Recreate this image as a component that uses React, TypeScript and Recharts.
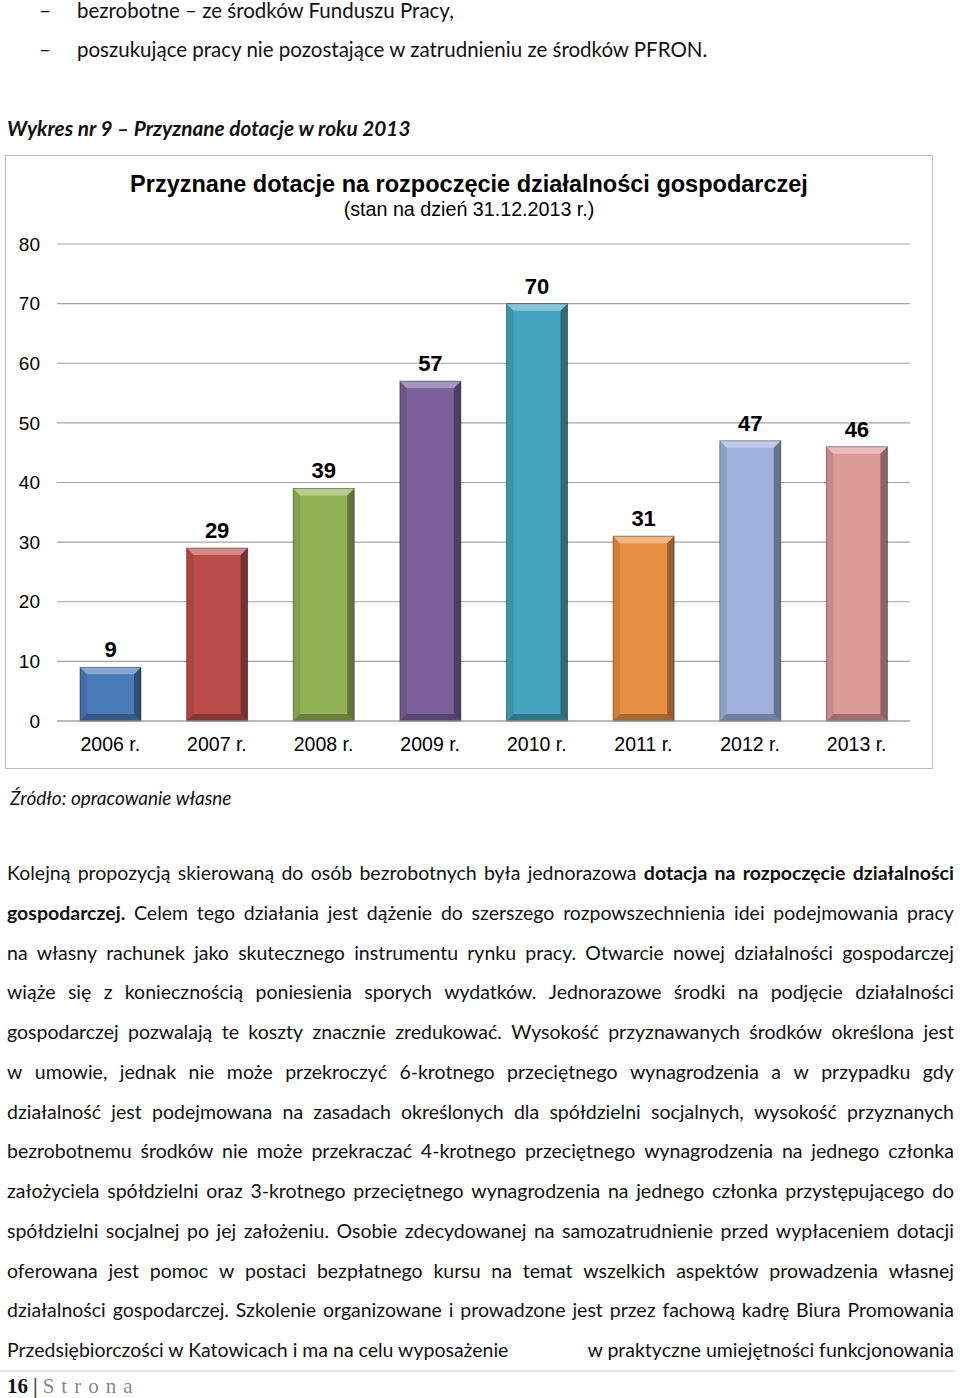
import React from "react";
import { Bar, BarChart, CartesianGrid, Cell, LabelList, XAxis, YAxis } from "recharts";

// chart data
const years = ["2006 r.", "2007 r.", "2008 r.", "2009 r.", "2010 r.", "2011 r.", "2012 r.", "2013 r."];
const grants = [9, 29, 39, 57, 70, 31, 47, 46];
const barColors = ["#4a7ab8", "#bb4c4a", "#93b256", "#7c5f9b", "#45a3bd", "#e88f45", "#9db1dc", "#dc9a99"];
const yTicks = [0, 10, 20, 30, 40, 50, 60, 70, 80];

const data = years.map((year, i) => ({ year, value: grants[i] }));

const bodyLines: { text: string; bold?: [number, number] }[] = [
  { text: "Kolejną propozycją skierowaną do osób bezrobotnych była jednorazowa dotacja na rozpoczęcie działalności", bold: [8, 12] },
  { text: "gospodarczej. Celem tego działania jest dążenie do szerszego rozpowszechnienia idei podejmowania pracy", bold: [0, 1] },
  { text: "na własny rachunek jako skutecznego instrumentu rynku pracy. Otwarcie nowej działalności gospodarczej" },
  { text: "wiąże się z koniecznością poniesienia sporych wydatków. Jednorazowe środki na podjęcie działalności" },
  { text: "gospodarczej pozwalają te koszty znacznie zredukować. Wysokość przyznawanych środków określona jest" },
  { text: "w umowie, jednak nie może przekroczyć 6-krotnego przeciętnego wynagrodzenia a w przypadku gdy" },
  { text: "działalność jest podejmowana na zasadach określonych dla spółdzielni socjalnych, wysokość przyznanych" },
  { text: "bezrobotnemu środków nie może przekraczać 4-krotnego przeciętnego wynagrodzenia na jednego członka" },
  { text: "założyciela spółdzielni oraz 3-krotnego przeciętnego wynagrodzenia na jednego członka przystępującego do" },
  { text: "spółdzielni socjalnej po jej założeniu. Osobie zdecydowanej na samozatrudnienie przed wypłaceniem dotacji" },
  { text: "oferowana jest pomoc w postaci bezpłatnego kursu na temat wszelkich aspektów prowadzenia własnej" },
  { text: "działalności gospodarczej. Szkolenie organizowane i prowadzone jest przez fachową kadrę Biura Promowania" },
];

const textFont = "Lato, 'Open Sans', sans-serif";
const chartFont = "'Liberation Sans', Arial, sans-serif";

// bar with the bevelled look of the old office charts
const BevelBar = (props: any) => {
  const { x, y, width, height, index } = props;
  if (!height || height <= 0) return null;
  const b = Math.min(7, height / 2);
  const fill = barColors[index];
  return (
    <g>
      <rect x={x} y={y} width={width} height={height} fill={fill} />
      <polygon
        points={`${x},${y} ${x + width},${y} ${x + width - b},${y + b} ${x + b},${y + b}`}
        fill="#ffffff"
        fillOpacity={0.35}
      />
      <polygon
        points={`${x},${y} ${x + b},${y + b} ${x + b},${y + height - b} ${x},${y + height}`}
        fill="#000000"
        fillOpacity={0.1}
      />
      <polygon
        points={`${x + width},${y} ${x + width},${y + height} ${x + width - b},${y + height - b} ${x + width - b},${y + b}`}
        fill="#000000"
        fillOpacity={0.35}
      />
      <polygon
        points={`${x},${y + height} ${x + width},${y + height} ${x + width - b},${y + height - b} ${x + b},${y + height - b}`}
        fill="#000000"
        fillOpacity={0.28}
      />
      <rect x={x} y={y} width={width} height={height} fill="none" stroke="#000" strokeOpacity={0.4} />
    </g>
  );
};

const JustifiedLine = ({ text, bold }: { text: string; bold?: [number, number] }) => {
  const words = text.split(" ");
  return (
    <div style={{ display: "flex", justifyContent: "space-between", whiteSpace: "nowrap" }}>
      {words.map((w, i) => (
        <span key={i} style={{ fontWeight: bold && i >= bold[0] && i < bold[1] ? 700 : 400 }}>
          {w}
        </span>
      ))}
    </div>
  );
};

const BulletLine = ({ top, text }: { top: number; text: string }) => (
  <div style={{ position: "absolute", top, left: 0, fontSize: 20.5, lineHeight: "21px", whiteSpace: "nowrap" }}>
    <span style={{ position: "absolute", left: 39 }}>–</span>
    <span style={{ marginLeft: 77 }}>{text}</span>
  </div>
);

const App = () => {
  return (
    <div
      style={{
        position: "absolute",
        left: 0,
        top: 0,
        width: 960,
        height: 1398,
        background: "#fff",
        overflow: "hidden",
        fontFamily: textFont,
        color: "#111",
      }}
    >
      {/* bullet lines */}
      <BulletLine top={0} text="bezrobotne – ze środków Funduszu Pracy," />
      <BulletLine top={39} text="poszukujące pracy nie pozostające w zatrudnieniu ze środków PFRON." />

      <div
        style={{
          position: "absolute",
          top: 108,
          left: 7,
          fontSize: 20.8,
          lineHeight: "40px",
          fontWeight: 700,
          fontStyle: "italic",
        }}
      >
        Wykres nr 9 – Przyznane dotacje w roku 2013
      </div>

      {/* chart frame */}
      <div
        style={{
          position: "absolute",
          left: 5,
          top: 155,
          width: 928,
          height: 614,
          boxSizing: "border-box",
          border: "1px solid #bdbdbd",
          fontFamily: chartFont,
        }}
      >
        <div
          style={{
            position: "absolute",
            top: 15,
            left: 0,
            width: "100%",
            textAlign: "center",
            fontSize: 23.5,
            fontWeight: 700,
            color: "#000",
          }}
        >
          Przyznane dotacje na rozpoczęcie działalności gospodarczej
        </div>
        <div
          style={{
            position: "absolute",
            top: 42,
            left: 0,
            width: "100%",
            textAlign: "center",
            fontSize: 19.7,
            color: "#000",
          }}
        >
          (stan na dzień 31.12.2013 r.)
        </div>
        <BarChart
          width={926}
          height={612}
          data={data}
          margin={{ top: 88, right: 22, left: 0, bottom: 0 }}
          barSize={61}
        >
          <CartesianGrid vertical={false} stroke="#a3a3a3" strokeWidth={1.2} />
          <XAxis
            dataKey="year"
            height={47}
            tickLine={false}
            tickSize={0}
            tickMargin={16}
            axisLine={{ stroke: "#a3a3a3", strokeWidth: 1.2 }}
            tick={{ fill: "#000", fontSize: 19.5, fontFamily: chartFont }}
            interval={0}
          />
          <YAxis
            width={51}
            domain={[0, 80]}
            ticks={yTicks}
            tickLine={false}
            axisLine={false}
            tickSize={0}
            tickMargin={17}
            tick={{ fill: "#000", fontSize: 19, fontFamily: chartFont }}
          />
          <Bar dataKey="value" shape={<BevelBar />} isAnimationActive={false}>
            {data.map((d, i) => (
              <Cell key={d.year} fill={barColors[i]} />
            ))}
            <LabelList
              dataKey="value"
              position="top"
              offset={10}
              style={{ fill: "#000", fontSize: 22, fontWeight: 700, fontFamily: chartFont }}
            />
          </Bar>
        </BarChart>
      </div>

      <div
        style={{
          position: "absolute",
          top: 778,
          left: 10,
          fontSize: 19,
          lineHeight: "40px",
          fontStyle: "italic",
        }}
      >
        Źródło: opracowanie własne
      </div>

      {/* paragraph */}
      <div
        style={{
          position: "absolute",
          top: 853,
          left: 7,
          width: 947,
          fontSize: 19.5,
          lineHeight: "39.75px",
        }}
      >
        {bodyLines.map((l, i) => (
          <JustifiedLine key={i} text={l.text} bold={l.bold} />
        ))}
        <div style={{ display: "flex", justifyContent: "space-between", whiteSpace: "nowrap" }}>
          <span>Przedsiębiorczości w Katowicach i ma na celu wyposażenie</span>
          <span>w praktyczne umiejętności funkcjonowania</span>
        </div>
      </div>

      {/* footer */}
      <div
        style={{
          position: "absolute",
          top: 1370,
          left: 0,
          width: 955,
          height: 2,
          background: "#e6e6e6",
        }}
      />
      <div
        style={{
          position: "absolute",
          top: 1373,
          left: 7,
          fontSize: 21,
          lineHeight: "26px",
          fontFamily: "'Liberation Serif', 'DejaVu Serif', serif",
        }}
      >
        <span style={{ fontWeight: 700 }}>16</span>
        <span style={{ color: "#444", fontWeight: 700, margin: "0 5px" }}>|</span>
        <span style={{ color: "#888", letterSpacing: 7 }}>Strona</span>
      </div>
    </div>
  );
};

export default App;
